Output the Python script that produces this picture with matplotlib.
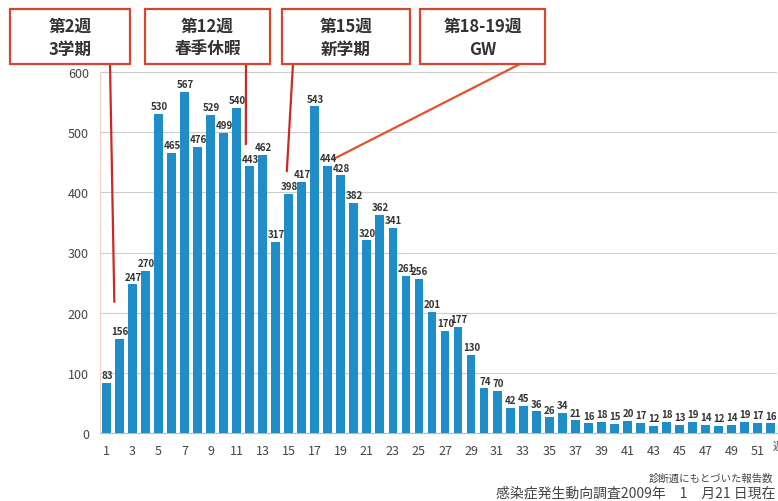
import numpy as np
import matplotlib.pyplot as plt
from matplotlib.patches import Rectangle
from matplotlib.transforms import IdentityTransform

plt.rcParams['font.family'] = ['Noto Sans CJK JP', 'DejaVu Sans']

weeks = np.arange(1, 53)
cases = [83, 156, 247, 270, 530, 465, 567, 476, 529, 499, 540, 443, 462, 317,
         398, 417, 543, 444, 428, 382, 320, 362, 341, 261, 256, 201, 170, 177,
         130, 74, 70, 42, 45, 36, 26, 34, 21, 16, 18, 15, 20, 17, 12, 18, 13,
         19, 14, 12, 14, 19, 17, 16]
yticks = [0, 100, 200, 300, 400, 500, 600]

# callout boxes: line 1, line 2, point on chart (week, value)
notes = [("第2週", "3学期", (1.6, 218)),
         ("第12週", "春季休暇", (11.7, 480)),
         ("第15週", "新学期", (14.85, 435)),
         ("第18-19週", "GW", (18.4, 455))]

W, H = 778, 502
fig = plt.figure(figsize=(W / 100, H / 100), dpi=100)
ax = fig.add_axes([100 / W, 68 / H, 677 / W, 361 / H])

ax.bar(weeks, cases, width=0.68, color="#1f8dc8", zorder=3)
for w, v in zip(weeks, cases):
    ax.annotate(str(v), (w, v), xytext=(0.5, 2), textcoords="offset points",
                ha="center", va="bottom", fontsize=7, fontweight="bold",
                color="#333333", zorder=4)

ax.set_xlim(0.5, 52.5)
ax.set_ylim(0, 600)
ax.set_yticks(yticks)
ax.set_xticks(weeks[::2])
ax.tick_params(axis="both", length=0, labelsize=9, colors="#444444")
ax.tick_params(axis="x", pad=8)
ax.tick_params(axis="y", pad=8)
ax.grid(axis="y", color="#cccccc", linewidth=0.8, zorder=0)
for s in ["top", "right"]:
    ax.spines[s].set_visible(False)
ax.spines["left"].set_color("#f3d2c4")
ax.spines["bottom"].set_color("#bbbbbb")

# boxes in output pixels (top-left origin)
boxes = [(10, 10, 120, 55), (145, 10, 125, 55), (282, 10, 128, 55), (420, 10, 125, 55)]
starts = [(110, 65), (246, 65), (293, 65), (520, 65)]
line_cols = ["#cc2a20", "#cc2a20", "#cc2a20", "#e0532c"]

for (l1, l2, pt), (bx, by, bw, bh), (sx, sy), lc in zip(notes, boxes, starts, line_cols):
    rect = Rectangle((bx, H - by - bh), bw, bh, transform=IdentityTransform(),
                     facecolor="white", edgecolor="#d4462e", linewidth=1.6)
    fig.add_artist(rect)
    fig.text((bx + bw / 2) / W, (H - by - 17) / H, l1, ha="center", va="center",
             fontsize=12, fontweight="bold", color="#333333")
    fig.text((bx + bw / 2) / W, (H - by - 40) / H, l2, ha="center", va="center",
             fontsize=12, fontweight="bold", color="#333333")
    ax.annotate("", xy=pt, xycoords="data", xytext=(sx, H - sy),
                textcoords="figure pixels",
                arrowprops=dict(arrowstyle="-", color=lc, linewidth=1.6,
                                shrinkA=0, shrinkB=0), annotation_clip=False)

fig.text(773 / W, (H - 447) / H, "週", ha="left", va="center", fontsize=8,
         color="#444444")
fig.text(773 / W, (H - 479) / H, "診断週にもとづいた報告数", ha="right",
         va="center", fontsize=7.5, color="#444444")
fig.text(775 / W, (H - 494) / H, "感染症発生動向調査2009年　1　月21 日現在",
         ha="right", va="center", fontsize=10, color="#444444")

fig.savefig("out.png", dpi=100)
